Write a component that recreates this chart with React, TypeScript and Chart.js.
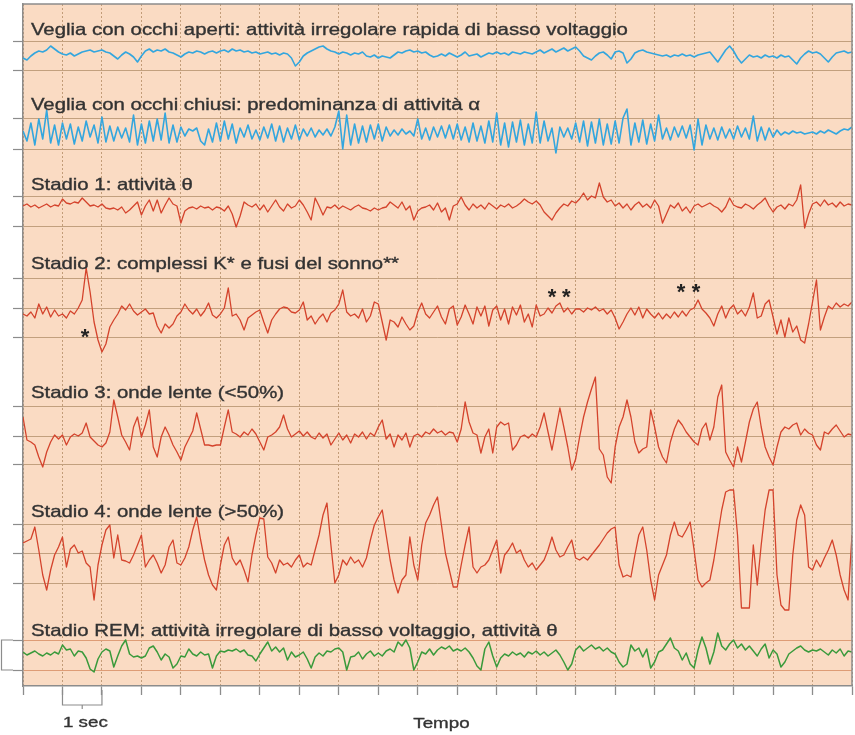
import React, { useEffect, useRef } from "react";
import { Chart, registerables } from "chart.js";

Chart.register(...registerables);

// ---- time axis (seconds) ----
const secondTicks = [0, 1, 2, 3, 4, 5, 6, 7, 8, 9, 10, 11, 12, 13, 14, 15, 16, 17, 18, 19, 20, 21];
const SAMPLE_STEP = 0.1; // seconds between samples

// ---- trace labels ----
const traceLabels = [
  "Veglia con occhi aperti: attività irregolare rapida di basso voltaggio",
  "Veglia con occhi chiusi: predominanza di attività α",
  "Stadio 1: attività θ",
  "Stadio 2: complessi K* e fusi del sonno**",
  "Stadio 3: onde lente (<50%)",
  "Stadio 4: onde lente (>50%)",
  "Stadio REM: attività irregolare di basso voltaggio, attività θ",
];

// ---- amplitudes (upward positive), one sample every 0.1 s ----
const wakeOpen = [
  -4, -6, -2, 1, 3, 2, 4, 8, 5, 2,
  0, -1, 1, -2, 0, 2, 3, 4, 2, 3,
  4, 2, 1, -2, -5, -1, 2, 0, -3, -8,
  -2, 3, 5, 2, 4, 3, 5, 2, 1, -1,
  -3, 0, 2, 1, 3, 2, 0, 2, 3, 1,
  3, 4, 2, 5, 3, 4, 2, 3, 1, 2,
  0, 1, 2, 0, 1, -1, 1, 0, -4, -12,
  -8, -2, 1, 3, 5, 7, 8, 5, 3, 2,
  0, 2, 1, -1, 1, 0, 2, -2, -3, -1,
  -4, -2, -3, -4, -1, 2, 1, 3, 4, 2,
  3, 1, 2, -1, -3, -2, 0, -2, 1, -1,
  -3, -1, 2, -2, -1, 0, -3, -1, 1, 0,
  2, 0, 1, -1, 2, 1, 0, 2, 1, 0,
  2, 4, 1, 3, 5, 2, 4, 6, 3, 5,
  7, 3, -2, -4, -6, -2, 1, 2, -1, -5,
  2, 3, 1, -9, -5, 1, 3, 4, 2, 1,
  0, -1, -2, -1, -3, -1, -2, 0, -2, -1,
  -3, -1, 0, 1, 2, -3, -8, -2, 4, 8,
  3, -4, -9, -5, -1, -3, -2, -4, -1, -3,
  -2, -4, -1, -3, -2, -6, -10, -4, 0, 3,
  1, 2, 0, -4, -8, -3, 1, 2, 3, 1,
  2,
];

const wakeClosed = [
  2, -8, 10, -12, 14, -6, 23, -10, 8, -12,
  10, -6, 9, -11, 6, -8, 12, -4, 8, -10,
  16, -9, 7, -8, 6, -5, 5, -9, 18, -12,
  9, -10, 12, -8, 14, -7, 20, -10, 8, -9,
  6, -3, 4, 2, 5, -8, -12, 4, -9, 10,
  -8, 12, -6, 9, -10, 5, -4, 8, -6, 3,
  -7, 6, -5, 9, -8, 7, -9, 5, -6, 8,
  -7, 4, -3, 5, -4, 3, -2, 4, -3, 6,
  22, -16, 18, -12, 9, -10, 7, -9, 8, -6,
  9, -8, 6, -3, 3, -2, 4, -1, 2, -3,
  14, -6, 5, -7, 6, -4, 7, -5, 8, -6,
  9, -7, 6, -9, 10, -8, 7, -10, 12, -9,
  20, -12, 10, -14, 11, -9, 13, -12, 9, -10,
  21, -10, 12, -8, 5, -20, 6, -4, 5, -6,
  10, -9, 12, -13, 11, -10, 14, -12, 9, -11,
  12, -10, 15, 24, -12, 10, -9, 13, -11, 9,
  -8, 18, -6, 5, -7, 6, -4, 7, -5, 8,
  -17, 14, -12, 8, -6, 5, -7, 6, -5, 4,
  -6, 7, -4, 5, -6, 17, -8, 6, -7, 5,
  -4, 3, -2, 1, -1, 2, 0, 1, -1, 0,
  1, -1, 2, 0, 3, 1, -1, 2, 4, 3,
  6,
];

const stage1 = [
  2, 4, 1, 3, 0, 2, 4, 1, 3, 2,
  9, 5, 4, 6, 5, 10, 6, 2, 3, 1,
  4, 0, -1, 0, -2, 1, -5, -2, 2, 6,
  -7, 2, 8, -3, 8, -5, 3, 10, 4, 2,
  -15, -3, 0, 1, -1, 2, 0, 1, -2, 1,
  0, -3, 2, -6, -19, -8, 6, 3, 1, 4,
  -2, 3, -4, 2, 8, 1, -3, 4, 0, 2,
  8, 3, -4, -12, 10, 2, -7, 1, 0, 3,
  -1, 2, 0, -2, 1, 3, 0, -1, -3, 0,
  -2, 0, 1, 6, 3, 0, 6, -2, 2, -12,
  -3, 0, 1, 3, -2, 5, -4, 0, -12, 2,
  4, 11, 3, -2, 4, 0, 3, -1, 5, 2,
  -1, 3, 1, 4, 0, 2, 5, 9, 6, 4,
  7, 3, -4, -8, -12, -5, 0, 4, 2, 7,
  5, 9, 15, 8, 12, 10, 25, 11, 6, 8,
  2, 5, 0, 4, -2, 3, 6, 1, 4, 0,
  8, 2, -15, -6, 3, 0, 5, -3, 1, -5,
  2, 4, 1, 3, 5, 2, 0, -4, 1, 10,
  3, 1, 0, 4, 2, -1, 3, 6, 10, 2,
  -4, 1, 3, -1, 4, 2, 8, 23, -20, -6,
  4, 6, 2, 8, 3, 5, 1, 6, 2, 4,
  3,
];

const stage2 = [
  -2, -4, 0, -6, 8, -2, 5, -5, 2, -4,
  -2, -6, 1, -2, 4, 12, 44, 20, -10, -28,
  -40, -32, -15, -8, -2, 6, 2, 8, 1, -3,
  0, 3, -2, -1, -14, -21, -12, -16, -12, -4,
  0, 8, 2, -2, 3, -4, 1, 9, -3, -6,
  -2, 4, 24, -4, -2, -8, -18, -6, -3, 0,
  2, -10, -21, -8, -2, 3, 5, 4, 0, -1,
  2, 10, -8, -4, -12, -6, -2, -10, -1, 2,
  8, 22, 0, -4, -2, -6, 3, -10, -4, 10,
  8, -10, -28, -8, -10, -15, -5, -12, -18, -14,
  0, 9, -2, -6, 0, 6, -5, -12, 3, 6,
  -13, -5, 7, -2, -12, 5, -4, 6, -14, 2,
  6, -8, 3, -12, 5, -3, 7, -10, -2, -15,
  7, -4, -2, 4, -1, 6, 9, 0, 4, -2,
  3, 3, 0, 4, 2, 5, 1, 3, -2, 2,
  -6, -17, -10, -2, 4, -3, 5, -6, 3, -2,
  -6, -1, -7, -2, -6, 0, -5, 1, -4, 2,
  4, 12, 3, -1, -6, -14, -2, 6, -6, 3,
  7, -2, 2, -4, 5, 19, -6, -4, 8, 12,
  -5, -22, -8, -25, -6, -20, -14, -28, -31, -12,
  10, 32, -18, -5, 6, 3, 9, 5, 8, 6,
  10,
];

const stage3 = [
  20, -3, -5, -8, -20, -30, -15, -5, 2, -2,
  2, -8, 0, 3, 1, 4, 14, 0, -4, -8,
  -10, -6, 5, 37, 20, 2, -5, -13, 10, 20,
  0, 12, 27, -10, -20, 0, 10, 2, -8, -15,
  -23, -10, -2, 6, 24, 8, -8, -8, -9, -8,
  -8, 10, 27, 5, 3, 0, 5, 2, 8, 3,
  -5, -13, 0, 2, 5, 10, 22, 8, 0, 3,
  6, 1, 5, 0, -2, 4, -1, 3, -8, -2,
  4, -3, 2, -6, 3, 0, 5, -2, 4, 1,
  10, 17, -2, 3, -10, 2, -3, 4, -10, 1,
  3, 0, 5, 3, 8, 4, 6, 2, 5, 4,
  -5, 8, 35, 15, 4, 2, -16, 0, 8, -16,
  10, 15, 12, 14, -13, -8, 0, 2, -1, 3,
  0, 10, 24, 5, -13, 8, 29, 10, -10, -33,
  -22, 0, 20, 35, 48, 60, -12, -18, -40, -46,
  -10, 10, 20, 37, 20, -5, -16, -12, -10, 27,
  10, -10, -20, -26, -5, 8, 17, 12, 5, 0,
  -5, -8, 8, 14, -3, 10, 40, 52, -15, -23,
  -30, -10, -25, -5, 15, 28, 35, 10, -10, -20,
  -28, -10, 5, 10, 8, 12, 14, 2, 8, 4,
  2, -8, -13, 5, 3, 8, 12, 6, 0, 3,
  2,
];

const stage4 = [
  12, 14, 16, 28, 5, -20, -35, -15, 0, 8,
  18, -12, 6, 10, 2, 4, -8, -12, -45, -10,
  10, 25, 30, -3, 20, -5, -6, -8, 0, 10,
  20, -12, -5, 0, -8, -18, -10, 8, 15, -8,
  -10, -3, 8, 25, 38, 15, -5, -20, -30, -35,
  -10, 10, 18, -3, -10, -5, -15, -27, 0, 20,
  37, 36, -2, -8, -18, -5, -10, -8, -12, -5,
  0, -12, -8, -10, 5, 20, 40, 52, 10, -28,
  -20, -5, -10, -2, -8, -5, -12, -3, 15, 30,
  38, 45, 20, -5, -25, -38, -25, -20, 18, -10,
  -25, 10, 32, 40, 50, 58, 30, 2, -15, -32,
  -32, -10, 10, 28, -12, -18, -12, -10, -5, 5,
  15, -18, 0, 5, 12, 2, 5, -5, -12, -8,
  -15, -10, -5, 5, 18, 5, -2, 0, 8, 15,
  -3, -5, -2, -5, 0, 5, 10, 16, 22, 26,
  28, -10, -22, -20, -22, 0, 20, 28, 5, -25,
  -45, -20, -10, 0, 20, 33, 20, 18, 25, 33,
  5, -25, -32, -28, -25, -5, 20, 45, 63, 65,
  65, 20, -53, -53, -53, 10, -30, 10, 45, 65,
  65, -20, -50, -55, -55, 0, 35, 50, 40, -12,
  -15, -5, -12, -3, 5, 15, 0, -20, -35, -45,
  20,
];

const stageREM = [
  2, -1, 1, 3, 0, -2, 1, -1, 2, 0,
  9, 4, 5, -2, 3, 2, -4, -15, -18, -5,
  2, 5, 3, -13, -2, 8, 14, 0, -3, -2,
  -4, -2, 6, 8, 2, -6, 0, -3, -14, -10,
  -2, -3, 5, 0, -2, 2, -1, 0, -14, -2,
  3, 2, 4, 3, 5, 2, 4, -1, -2, -7,
  0, 6, 12, 3, 7, 2, 6, -6, 2, -3,
  -1, 2, -5, -14, -3, 1, -2, 3, 2, 5,
  6, 2, -16, -3, -2, 2, -5, 0, 3, -2,
  1, -2, 3, 5, 2, 12, 8, 14, 6, -16,
  -8, 2, 0, 5, -1, 4, 7, 5, 8, 3,
  5, 3, 6, 2, -4, -12, -16, 5, 12, -2,
  -13, -4, 0, -2, 2, -1, 1, -3, 2, 0,
  3, -1, 2, -2, 1, 4, -1, -8, -16, -10,
  4, 8, 3, 6, 9, 5, 7, 3, 6, 2,
  0, -8, -13, -10, 9, 3, 6, -3, 5, -14,
  -8, 2, 4, 10, 16, 6, 3, -6, 1, -10,
  -14, 4, 17, 6, -10, 2, 21, 8, 4, 10,
  14, 6, 10, 4, 8, 3, -2, 5, 10, -4,
  4, 0, -13, -8, 0, 3, 6, 8, 4, 2,
  4, 3, 5, 2, -1, 4, 1, 5, -2, 3,
  2,
];

const traces = [wakeOpen, wakeClosed, stage1, stage2, stage3, stage4, stageREM];

// ---- layout (vertical value scale runs 4..686, top to bottom) ----
const traceBaselines = [54, 133, 208, 312, 437, 555, 654];
const labelLevels = [35, 110, 190, 269, 398, 517, 636];
const gridLevels = [41, 70, 119, 149, 196, 226, 278, 308, 337, 406, 436, 465, 524, 553, 583, 640, 670];
const starMarks = [
  { x: 1.57, y: 333 },
  { x: 13.4, y: 293 },
  { x: 13.76, y: 293 },
  { x: 16.67, y: 288 },
  { x: 17.05, y: 288 },
];

// ---- styles ----
const BG = "#FADBC3";
const GRID_LINE = "#C2A07E";
const REM_LINE = "#DE9C76";
const V_GRID = "#C29C78";
const AXIS_GRAY = "#8C8C8C";
const TEXT = "#333333";
const BLUE = "#33A6DE";
const RED = "#D4432C";
const GREEN = "#399A3B";
const traceColors = [BLUE, BLUE, RED, RED, RED, RED, GREEN];
const traceWidths = [1.6, 1.6, 1.3, 1.3, 1.3, 1.3, 1.5];
const FONT = '"Liberation Sans", Arial, Helvetica, sans-serif';

function stretchedText(ctx: CanvasRenderingContext2D, text: string, x: number, y: number, size: number, sx: number, align: "left" | "center") {
  ctx.save();
  ctx.font = `${size}px ${FONT}`;
  const w = ctx.measureText(text).width * sx;
  const x0 = align === "center" ? x - w / 2 : x;
  ctx.translate(x0, y);
  ctx.scale(sx, 1);
  ctx.textAlign = "left";
  ctx.textBaseline = "alphabetic";
  ctx.fillStyle = TEXT;
  ctx.strokeStyle = TEXT;
  ctx.lineWidth = 0.35;
  ctx.fillText(text, 0, 0);
  ctx.strokeText(text, 0, 0);
  ctx.restore();
}

const eegDecor = {
  id: "eegDecor",
  beforeDraw(chart: any) {
    const { ctx, chartArea: a } = chart;
    ctx.save();
    ctx.fillStyle = BG;
    ctx.fillRect(a.left, a.top, a.right - a.left, a.bottom - a.top);
    ctx.restore();
  },
  afterDraw(chart: any) {
    const { ctx, chartArea: a, scales } = chart;
    const xs = scales.x;
    const ys = scales.y;
    ctx.save();
    ctx.strokeStyle = AXIS_GRAY;
    ctx.lineWidth = 1.5;
    // top and right frame
    ctx.beginPath();
    ctx.moveTo(a.left, a.top);
    ctx.lineTo(a.right, a.top);
    ctx.lineTo(a.right, a.bottom);
    ctx.stroke();
    // calibration bracket next to the REM trace
    const yT = ys.getPixelForValue(gridLevels[15]);
    const yB = ys.getPixelForValue(gridLevels[16]);
    ctx.lineWidth = 1.2;
    ctx.beginPath();
    ctx.moveTo(a.left - 10, yT);
    ctx.lineTo(1.5, yT);
    ctx.lineTo(1.5, yB);
    ctx.lineTo(a.left - 10, yB);
    ctx.stroke();
    // "1 sec" bracket
    const x1 = xs.getPixelForValue(1);
    const x2 = xs.getPixelForValue(2);
    const by = a.bottom + 19;
    ctx.beginPath();
    ctx.moveTo(x1, a.bottom + 4);
    ctx.lineTo(x1, by);
    ctx.lineTo(x2, by);
    ctx.lineTo(x2, a.bottom + 4);
    ctx.moveTo((x1 + x2) / 2, by);
    ctx.lineTo((x1 + x2) / 2, by + 4);
    ctx.stroke();
    ctx.restore();

    // trace labels
    traceLabels.forEach((t, k) => {
      stretchedText(ctx, t, xs.getPixelForValue(0.2), ys.getPixelForValue(labelLevels[k]), 16.5, 1.235, "left");
    });
    // axis texts
    stretchedText(ctx, "1 sec", xs.getPixelForValue(1.58), a.bottom + 41, 15, 1.25, "center");
    stretchedText(ctx, "Tempo", xs.getPixelForValue(10.6), a.bottom + 42, 15, 1.25, "center");

    // K-complex and spindle markers
    ctx.save();
    ctx.font = `bold 22px ${FONT}`;
    ctx.fillStyle = "#222";
    ctx.textAlign = "center";
    ctx.textBaseline = "alphabetic";
    const m = ctx.measureText("*");
    const off = (m.actualBoundingBoxAscent - m.actualBoundingBoxDescent) / 2;
    starMarks.forEach((s) => {
      ctx.fillText("*", xs.getPixelForValue(s.x), ys.getPixelForValue(s.y) + off);
    });
    ctx.restore();
  },
};

export default function App() {
  const ref = useRef<HTMLCanvasElement>(null);
  useEffect(() => {
    const canvas = ref.current;
    if (!canvas) return;
    const datasets = traces.map((vals, k) => ({
      label: traceLabels[k],
      data: vals.map((v, i) => ({ x: i * SAMPLE_STEP, y: traceBaselines[k] - v })),
      borderColor: traceColors[k],
      borderWidth: traceWidths[k],
      pointRadius: 0,
      tension: 0,
      fill: false,
      borderJoinStyle: "round" as const,
    }));
    const chart = new Chart(canvas, {
      type: "line",
      data: { datasets },
      options: {
        responsive: false,
        animation: false,
        events: [],
        layout: { padding: { left: 13, right: 3, top: 4, bottom: 40 } },
        plugins: { legend: { display: false }, tooltip: { enabled: false }, title: { display: false } },
        scales: {
          x: {
            type: "linear",
            min: secondTicks[0],
            max: secondTicks[secondTicks.length - 1],
            afterBuildTicks: (scale: any) => {
              scale.ticks = secondTicks.map((v) => ({ value: v }));
            },
            ticks: { display: false },
            grid: { color: V_GRID, lineWidth: 1, tickLength: 9, tickColor: AXIS_GRAY, tickWidth: 1.3 },
            border: { display: true, color: AXIS_GRAY, width: 1.5, dash: [2, 2] },
          },
          y: {
            type: "linear",
            reverse: true,
            min: 4,
            max: 686,
            afterBuildTicks: (scale: any) => {
              scale.ticks = gridLevels.map((v) => ({ value: v }));
            },
            ticks: { display: false },
            grid: {
              color: (c: any) => (c.tick && c.tick.value >= 640 ? REM_LINE : GRID_LINE),
              lineWidth: 1,
              tickLength: 10,
              tickColor: AXIS_GRAY,
              tickWidth: 1.2,
            },
            border: { display: true, color: AXIS_GRAY, width: 1.5 },
          },
        },
      },
      plugins: [eegDecor],
    });
    return () => chart.destroy();
  }, []);
  return (
    <div style={{ position: "absolute", left: 0, top: 0, width: 855, height: 735, background: "#fff" }}>
      <canvas ref={ref} width={855} height={735} style={{ display: "block", width: 855, height: 735 }} />
    </div>
  );
}
